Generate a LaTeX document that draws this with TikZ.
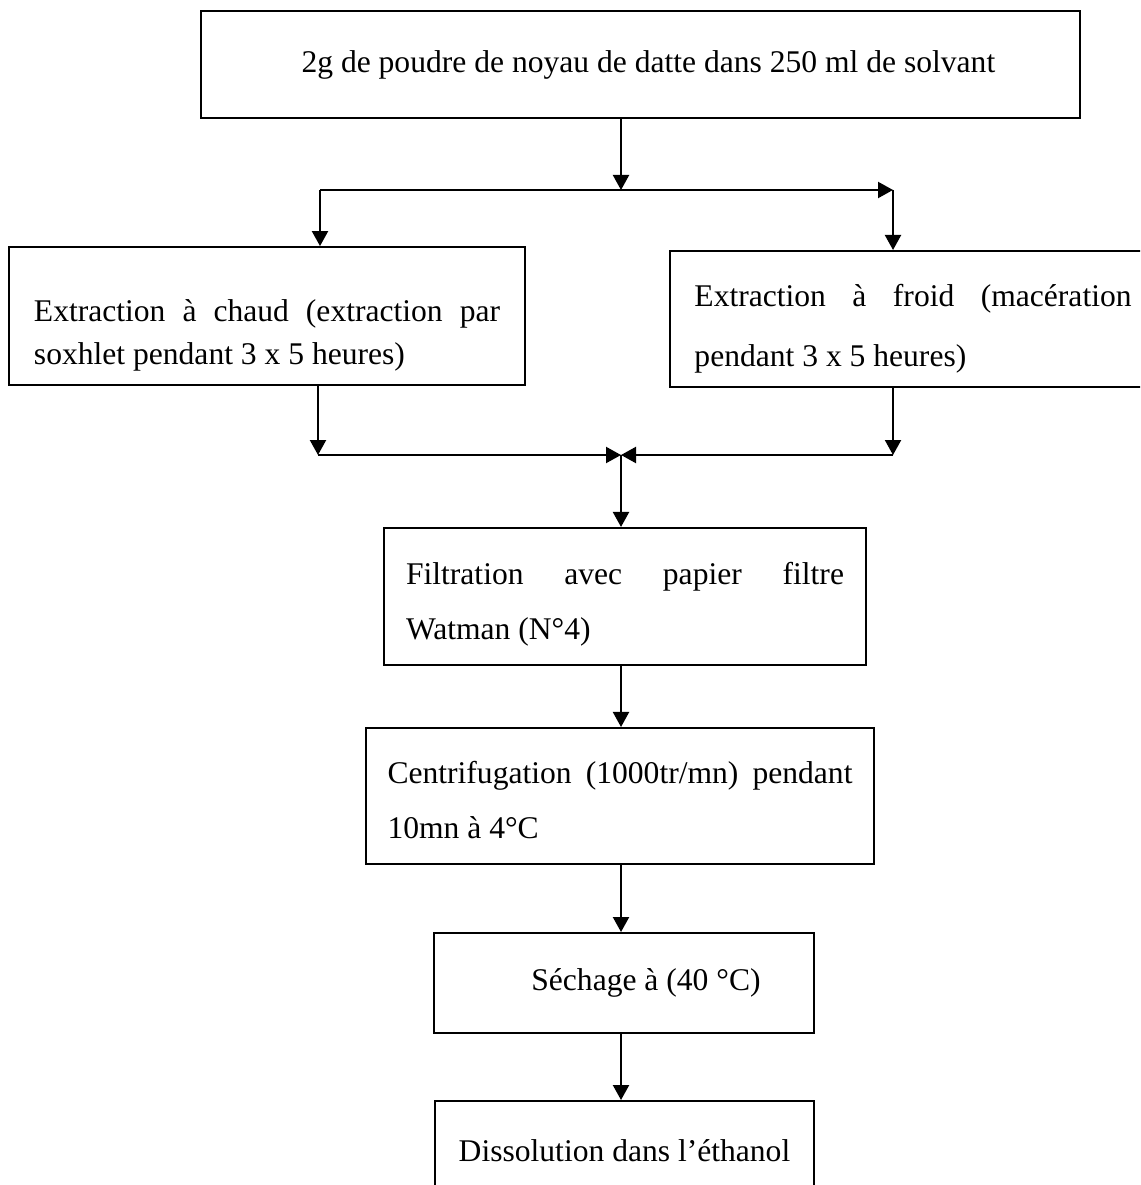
\documentclass[tikz,border=0pt]{standalone}
\usepackage{fontspec}
\setmainfont{Liberation Serif}
\usepackage{tikz}
\usetikzlibrary{arrows.meta}

\newcommand{\textdrop}[1]{\rule{0pt}{#1}}

\begin{document}
\begin{tikzpicture}[
    x=0.38pt, y=-0.38pt,
    font=\fontsize{12}{20.9}\selectfont,
    stage/.style={
        rectangle,
        draw=black,
        line width=0.75pt,
        inner sep=0pt,
        align=center
    },
    para/.style={
        stage,
        align=justify
    },
    arrow/.style={-{Triangle[length=5.7pt,width=6.1pt]}, line width=0.75pt}
]
\useasboundingbox (0,0) rectangle (1140,1185);
\clip (0,0) rectangle (1140,1185);

\node[stage, minimum width=334pt, minimum height=40.7pt] (sample) at (640.5,64.5) {\hspace*{6pt}2g de poudre de noyau de datte dans 250 ml de solvant};
\node[para, font=\fontsize{12}{16.3}\selectfont, text width=177.1pt, minimum width=196.1pt, minimum height=52.4pt] (hot) at (267,316) {\textdrop{23pt}Extraction à chaud (extraction par\linebreak soxhlet pendant 3 x 5 heures)};
\node[para, font=\fontsize{12}{22.8}\selectfont, text width=166.1pt, minimum width=184.7pt, minimum height=51.7pt] (cold) at (913,319) {\textdrop{15.8pt}Extraction à froid (macération\linebreak pendant 3 x 5 heures)};
\node[para, text width=166.4pt, minimum width=183.2pt, minimum height=52.1pt] (filt) at (625,596.5) {\textdrop{14.3pt}Filtration avec papier filtre\linebreak Watman (N°4)};
\node[para, text width=176.7pt, minimum width=193pt, minimum height=51.7pt] (centri) at (620,796) {\textdrop{11.8pt}Centrifugation (1000tr/mn) pendant\linebreak 10mn à 4°C};
\node[stage, minimum width=144.4pt, minimum height=38pt] (dry) at (624,983) {\hspace*{16.7pt}Séchage à (40 °C)};
\node[stage, minimum width=144pt, minimum height=38pt] (dissol) at (624.5,1151) {Dissolution dans l’éthanol};

\coordinate (split) at (621,190);
\coordinate (splitL) at (320,190);
\coordinate (splitR) at (893,190);
\coordinate (joinL) at (318,455);
\coordinate (joinR) at (893,455);
\coordinate (merge) at (621,455);

\draw[arrow] (sample.south -| split) -- (split);
\draw[arrow] (splitL) -- (splitR);
\draw[arrow] (splitL) -- (splitL |- hot.north);
\draw[arrow] (splitR) -- (splitR |- cold.north);

\draw[arrow] (joinL |- hot.south) -- (joinL);
\draw[arrow] (joinL) -- (merge);
\draw[arrow] (joinR |- cold.south) -- (joinR);
\draw[arrow] (joinR) -- (merge);
\draw[arrow] (merge) -- (merge |- filt.north);

\draw[arrow] (filt.south -| merge) -- (centri.north -| merge);
\draw[arrow] (centri.south -| merge) -- (dry.north -| merge);
\draw[arrow] (dry.south -| merge) -- (dissol.north -| merge);

\end{tikzpicture}
\end{document}
